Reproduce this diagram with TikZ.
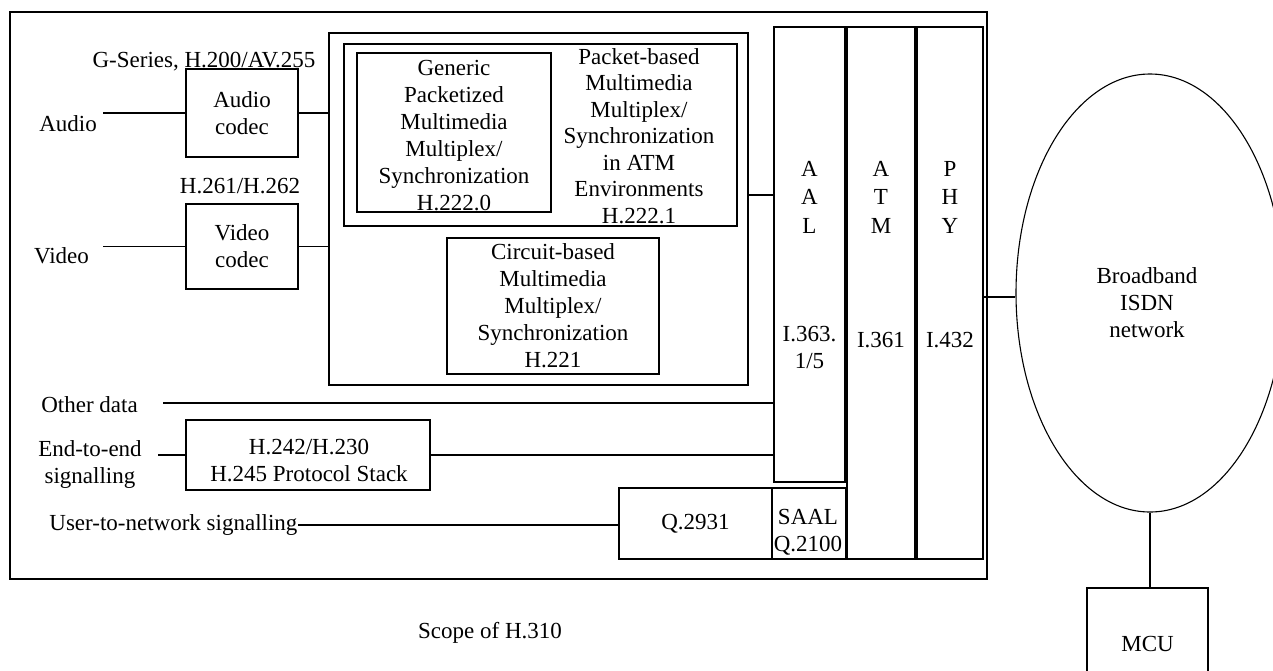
\documentclass[tikz,border=0pt]{standalone}
\usepackage{fontspec}
\setmainfont{Liberation Serif}
\usetikzlibrary{shapes.geometric}
\tikzset{
  box/.style={draw, rectangle, inner sep=0pt, align=center},
  txt/.style={inner sep=0pt, align=center},
}
\begin{document}
\begin{tikzpicture}[x=1pt, y=-1pt, line width=1.1pt,
  font=\fontsize{23}{27}\selectfont]
\useasboundingbox (0,0) rectangle (1273,670);

% terminal scope
\node[box, minimum width=977pt, minimum height=567pt] (scope) at (498.5,295.5) {};

% codecs
\node[box, minimum width=112pt, minimum height=88pt] (acodec) at (242,113) {Audio\\codec};
\node[box, minimum width=112pt, minimum height=85pt] (vcodec) at (242,246.5) {Video\\codec};
\node[txt, anchor=base] (aref) at (204,67) {G-Series, H.200/AV.255};
\node[txt, anchor=base] (vref) at (240,193) {H.261/H.262};
\node[txt, anchor=base] (ain) at (68,131) {Audio};
\node[txt, anchor=base] (vin) at (61.5,263) {Video};
\coordinate (aend) at (103,113);
\coordinate (vend) at (103,246.5);

% multiplex / synchronization
\node[box, minimum width=419pt, minimum height=352pt] (mux) at (538.5,209) {};
\node[box, minimum width=393pt, minimum height=182pt] (pkt) at (540.5,135) {};
\node[box, minimum width=194pt, minimum height=159pt] (gen) at (454,132.5) {};
\node[txt] (gentext) at (454,135.5)
  {Generic\\Packetized\\Multimedia\\Multiplex/\\Synchronization\\H.222.0};
\node[txt, font=\fontsize{23}{26.5}\selectfont] (pkttext) at (639,136)
  {Packet-based\\Multimedia\\Multiplex/\\Synchronization\\in ATM\\Environments\\H.222.1};
\node[box, minimum width=212pt, minimum height=136pt] (circ) at (553,306)
  {Circuit-based\\Multimedia\\Multiplex/\\Synchronization\\H.221};

% ATM protocol stack
\node[box, minimum width=71pt, minimum height=455pt] (aal) at (809.5,254.5) {};
\node[box, minimum width=68pt, minimum height=532pt] (atm) at (881,293) {};
\node[box, minimum width=66pt, minimum height=532pt] (phy) at (950,293) {};
\node[txt, font=\fontsize{23}{28.5}\selectfont] (aall) at (809.5,197) {A\\A\\L};
\node[txt, font=\fontsize{23}{28.5}\selectfont] (atml) at (881,197) {A\\T\\M};
\node[txt, font=\fontsize{23}{28.5}\selectfont] (phyl) at (950,197) {P\\H\\Y};
\node[txt] (aalref) at (809.5,347) {I.363.\\1/5};
\node[txt] (atmref) at (881,340) {I.361};
\node[txt] (phyref) at (950,340) {I.432};

% signalling
\node[box, minimum width=74pt, minimum height=71pt] (saal) at (809,523.5) {};
\node[txt] (saaltext) at (808,532) {SAAL\\Q.2100};
\node[box, minimum width=153pt, minimum height=71pt] (q2931) at (695.5,523.5) {Q.2931};
\node[box, minimum width=244pt, minimum height=70pt] (ctrl) at (308,455) {};
\node[txt] (ctrltext) at (309,461) {H.242/H.230\\H.245 Protocol Stack};
\node[txt, anchor=base] (odata) at (89.5,412) {Other data};
\node[txt] (e2e) at (90,464) {End-to-end\\signalling};
\node[txt, anchor=east] (uni) at (298,525) {User-to-network signalling};
\coordinate (oend) at (163,403);
\coordinate (cend) at (158,455);

% network side
\node[draw, ellipse, inner sep=0pt, minimum width=268pt, minimum height=438pt] (net) at (1150,293) {};
\node[txt] (nettext) at (1147,303) {Broadband\\ISDN\\network};
\node[box, minimum width=121pt, minimum height=112pt] (mcu) at (1147.5,644) {MCU};

\node[txt, anchor=base] (scopelbl) at (490,638) {Scope of H.310};

% connectors
\draw (aend) -- (acodec.west);
\draw (acodec.east) -- (acodec.east -| mux.west);
\draw (vend) -- (vcodec.west);
\draw (vcodec.east) -- (vcodec.east -| mux.west);
\draw (mux.east |- 0,195) -- (aal.west |- 0,195);
\draw (oend) -- (oend -| aal.west);
\draw (cend) -- (ctrl.west);
\draw (ctrl.east) -- (ctrl.east -| aal.west);
\draw (uni.east) -- (uni.east -| q2931.west);
\draw (phy.east |- 0,297) -- (net.west |- 0,297);
\draw (net.south) -- (net.south |- mcu.north);
\end{tikzpicture}
\end{document}
